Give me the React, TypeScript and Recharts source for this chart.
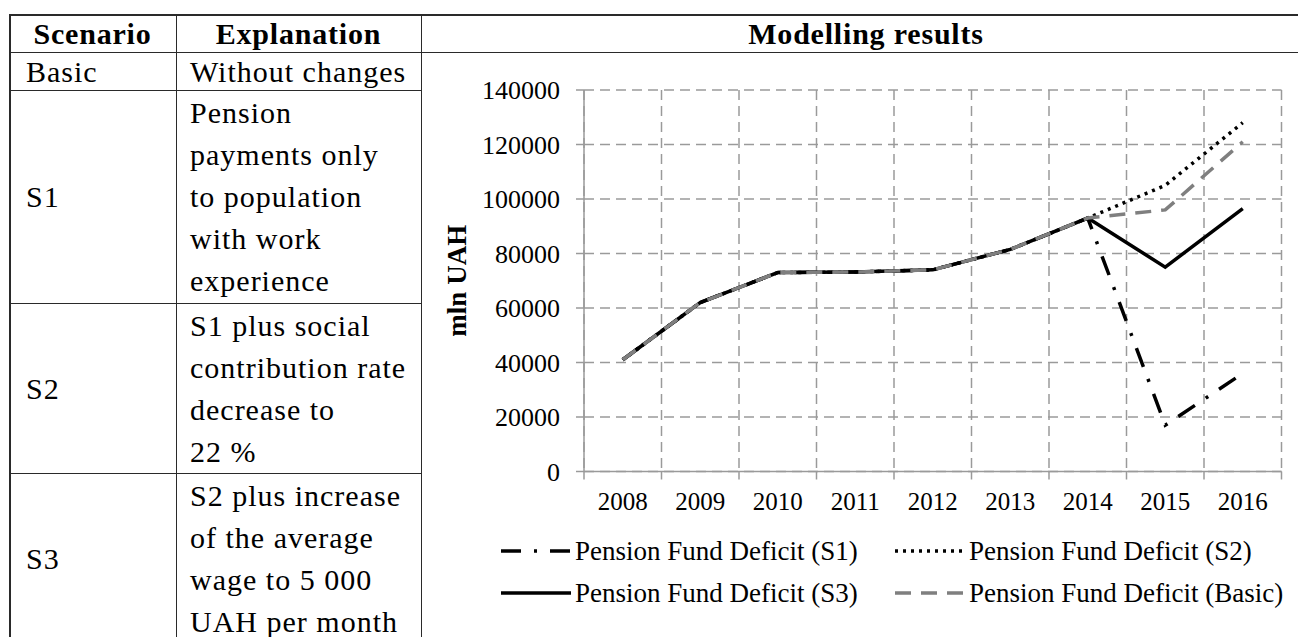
import { LineChart, Line, XAxis, YAxis, CartesianGrid, Legend } from 'recharts';

const YEARS = ['2008', '2009', '2010', '2011', '2012', '2013', '2014', '2015', '2016'];
const S1 = [41000, 62000, 73000, 73200, 74000, 81500, 93000, 17000, 36000];
const S2 = [41000, 62000, 73000, 73200, 74000, 81500, 93000, 105000, 128000];
const S3 = [41000, 62000, 73000, 73200, 74000, 81500, 93000, 75000, 96500];
const BASIC = [41000, 62000, 73000, 73200, 74000, 81500, 93000, 96000, 121000];
const Y_TICKS = [0, 20000, 40000, 60000, 80000, 100000, 120000, 140000];

const DATA = YEARS.map((year, i) => ({
  pos: i + 0.5,
  year,
  s1: S1[i],
  s2: S2[i],
  s3: S3[i],
  basic: BASIC[i],
}));
const BOUNDS = YEARS.map((_, i) => i).concat(YEARS.length);
const CENTERS = YEARS.map((_, i) => i + 0.5);

const FONT = '"Liberation Serif", "Times New Roman", serif';
const GRID = '#9a9a9a';
const ORDER = ['s1', 's2', 's3', 'basic'];

const STYLE: Record<string, { color: string; dash?: string }> = {
  s1: { color: '#000000', dash: '20 13 3 13' },
  s2: { color: '#000000', dash: '3 5' },
  s3: { color: '#000000' },
  basic: { color: '#7f7f7f', dash: '16 10' },
};

function ChartLegend(props: any) {
  const payload = [...(props.payload || [])].sort(
    (a: any, b: any) => ORDER.indexOf(a.dataKey) - ORDER.indexOf(b.dataKey)
  );
  return (
    <div
      style={{
        display: 'grid',
        gridTemplateColumns: '394px 420px',
        paddingLeft: 79,
        fontFamily: FONT,
        fontSize: 27,
        color: '#000',
      }}
    >
      {payload.map((e: any) => {
        const st = STYLE[e.dataKey] || { color: e.color };
        return (
          <div key={e.value} style={{ display: 'flex', alignItems: 'center', height: 42 }}>
            <svg width={70} height={10} style={{ marginRight: 4 }}>
              <line x1={0} y1={5} x2={70} y2={5} stroke={st.color} strokeWidth={3.5} strokeDasharray={st.dash} />
            </svg>
            <span style={{ whiteSpace: 'nowrap' }}>{e.value}</span>
          </div>
        );
      })}
    </div>
  );
}

const hLine = (x: number, y: number, w: number) => (
  <div style={{ position: 'absolute', left: x, top: y, width: w, height: 1.5, background: '#2a2a2a' }} />
);
const vLine = (x: number, y: number, h: number) => (
  <div style={{ position: 'absolute', left: x, top: y, width: 1.5, height: h, background: '#2a2a2a' }} />
);

function Cell({ left, top, width, height, center, bold, lines }: any) {
  return (
    <div
      style={{
        position: 'absolute',
        left,
        top,
        width,
        height,
        display: 'flex',
        flexDirection: 'column',
        justifyContent: 'center',
        alignItems: center ? 'center' : 'flex-start',
        fontWeight: bold ? 'bold' : 'normal',
        fontSize: 30,
        letterSpacing: bold ? 0.8 : 1,
        lineHeight: '42px',
        whiteSpace: 'nowrap',
      }}
    >
      {lines.map((l: string) => (
        <div key={l}>{l}</div>
      ))}
    </div>
  );
}

export default function App() {
  return (
    <div
      style={{
        position: 'absolute',
        left: 0,
        top: 0,
        width: 1298,
        height: 637,
        overflow: 'hidden',
        background: '#fff',
        fontFamily: FONT,
        color: '#000',
      }}
    >
      {hLine(9, 14, 1300)}
      {hLine(9, 51.5, 1300)}
      {hLine(9, 89.5, 412)}
      {hLine(9, 302.5, 412)}
      {hLine(9, 472.5, 412)}
      {vLine(9, 14, 640)}
      {vLine(175.5, 14, 640)}
      {vLine(420.5, 14, 640)}

      <Cell left={10} top={15} width={165} height={37} center bold lines={['Scenario']} />
      <Cell left={177} top={15} width={243} height={37} center bold lines={['Explanation']} />
      <Cell left={422} top={15} width={888} height={37} center bold lines={['Modelling results']} />

      <Cell left={26} top={53} width={148} height={37} lines={['Basic']} />
      <Cell left={190} top={53} width={230} height={37} lines={['Without changes']} />
      <Cell left={26} top={91} width={148} height={212} lines={['S1']} />
      <Cell
        left={190}
        top={91}
        width={230}
        height={212}
        lines={['Pension', 'payments only', 'to population', 'with work', 'experience']}
      />
      <Cell left={26} top={304} width={148} height={169} lines={['S2']} />
      <Cell
        left={190}
        top={304}
        width={230}
        height={169}
        lines={['S1 plus social', 'contribution rate', 'decrease to', '22 %']}
      />
      <Cell left={26} top={474} width={148} height={170} lines={['S3']} />
      <Cell
        left={190}
        top={474}
        width={230}
        height={170}
        lines={['S2 plus increase', 'of the average', 'wage to 5 000', 'UAH per month']}
      />

      <div style={{ position: 'absolute', left: 422, top: 53 }}>
        <LineChart width={876} height={584} data={DATA} margin={{ top: 37, right: 16.5, bottom: 33.5, left: 0 }}>
          <CartesianGrid xAxisId="b" stroke={GRID} strokeWidth={1.5} strokeDasharray="10 6" />
          <XAxis
            xAxisId="b"
            type="number"
            dataKey="pos"
            domain={[0, YEARS.length]}
            ticks={BOUNDS}
            tickFormatter={() => ''}
            tickSize={8}
            height={8}
            stroke={GRID}
            strokeWidth={1.5}
            allowDataOverflow
          />
          <XAxis
            xAxisId="c"
            type="number"
            dataKey="pos"
            domain={[0, YEARS.length]}
            ticks={CENTERS}
            tickFormatter={(v: number) => YEARS[Math.floor(v)]}
            axisLine={false}
            tickLine={false}
            tickSize={0}
            tickMargin={13}
            height={40}
            tick={{ fill: '#000', fontSize: 25, fontFamily: FONT }}
            interval={0}
          />
          <YAxis
            domain={[0, 140000]}
            ticks={Y_TICKS}
            width={162}
            tickSize={8}
            tickMargin={16}
            stroke={GRID}
            strokeWidth={1.5}
            interval={0}
            tick={{ fill: '#000', fontSize: 26, fontFamily: FONT }}
            label={{
              value: 'mln UAH',
              angle: -90,
              position: 'insideLeft',
              offset: 34,
              style: { textAnchor: 'middle', fontWeight: 'bold', fontSize: 27, fontFamily: FONT, fill: '#000' },
            }}
          />
          <Legend
            verticalAlign="bottom"
            content={<ChartLegend />}
            wrapperStyle={{ left: 0, top: 477, width: 876 }}
          />
          <Line
            xAxisId="c"
            dataKey="s1"
            name="Pension Fund Deficit (S1)"
            stroke={STYLE.s1.color}
            strokeDasharray={STYLE.s1.dash}
            strokeWidth={3.5}
            dot={false}
            isAnimationActive={false}
          />
          <Line
            xAxisId="c"
            dataKey="s2"
            name="Pension Fund Deficit (S2)"
            stroke={STYLE.s2.color}
            strokeDasharray={STYLE.s2.dash}
            strokeWidth={3.5}
            dot={false}
            isAnimationActive={false}
          />
          <Line
            xAxisId="c"
            dataKey="s3"
            name="Pension Fund Deficit (S3)"
            stroke={STYLE.s3.color}
            strokeWidth={3.5}
            dot={false}
            isAnimationActive={false}
          />
          <Line
            xAxisId="c"
            dataKey="basic"
            name="Pension Fund Deficit (Basic)"
            stroke={STYLE.basic.color}
            strokeDasharray={STYLE.basic.dash}
            strokeWidth={3.5}
            dot={false}
            isAnimationActive={false}
          />
        </LineChart>
      </div>
    </div>
  );
}
